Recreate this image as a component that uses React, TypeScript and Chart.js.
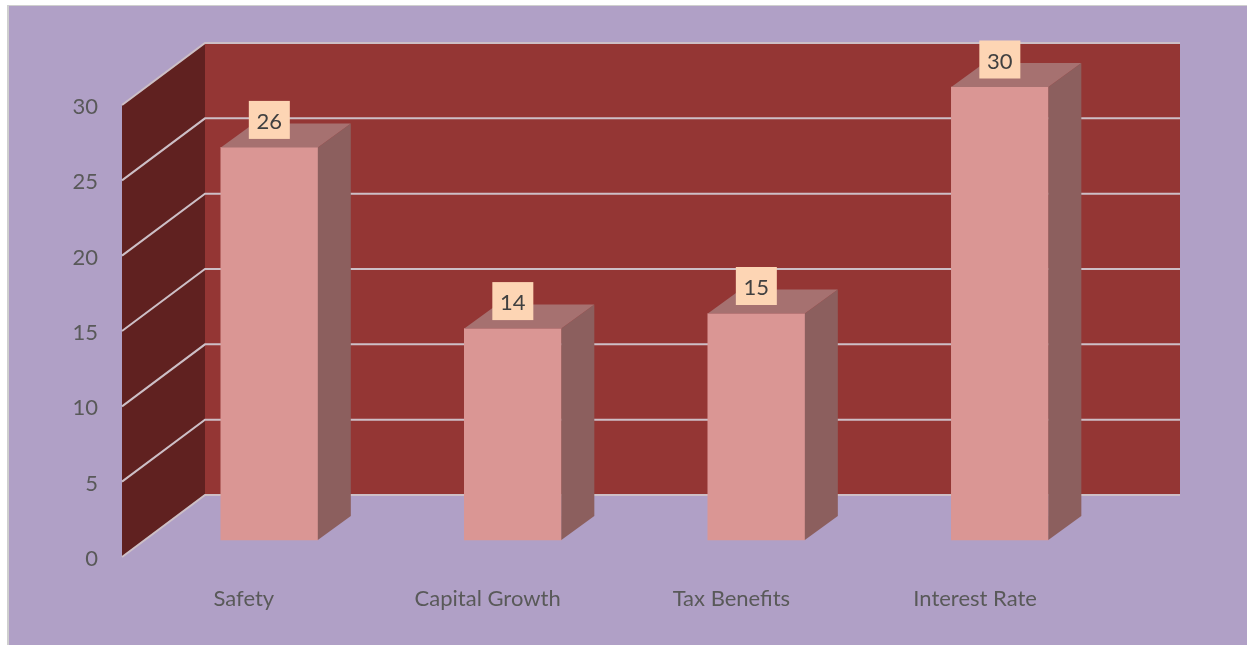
import React, { useEffect, useRef } from "react";
import { Chart, registerables } from "chart.js";

Chart.register(...registerables);

const categories = ["Safety", "Capital Growth", "Tax Benefits", "Interest Rate"];
const seriesValues = [26, 14, 15, 30];
const yTickMax = 30;

const PAGE_BG = "#B0A0C6";
const BACK_WALL = "#943634";
const SIDE_WALL = "#602120";
const GRID = "#CDBFC6";
const BAR_FRONT = "#DA9694";
const BAR_SIDE = "#8C5F5E";
const BAR_TOP = "#A67170";
const LABEL_BG = "#FDD5B4";
const AXIS_TEXT = "#595959";
const LABEL_TEXT = "#404040";
const FONT = "Lato";

const WALL_DX = 83;
const WALL_DY = -62;
const BAR_DX = 33;
const BAR_DY = -24;

function poly(ctx: CanvasRenderingContext2D, pts: number[][], fill: string) {
  ctx.beginPath();
  pts.forEach(([x, y], i) => (i ? ctx.lineTo(x, y) : ctx.moveTo(x, y)));
  ctx.closePath();
  ctx.fillStyle = fill;
  ctx.fill();
}

const scene3d = {
  id: "scene3d",
  beforeDraw(chart: any) {
    const { ctx, width, height } = chart;
    ctx.save();
    ctx.fillStyle = "#FFFFFF";
    ctx.fillRect(0, 0, width, height);
    ctx.fillStyle = "#CFCFCF";
    ctx.fillRect(7, 5, width - 7, height - 5);
    ctx.fillStyle = PAGE_BG;
    ctx.fillRect(9, 6, width - 9, height - 6);
    ctx.restore();
  },
  beforeDatasetsDraw(chart: any) {
    const { ctx, chartArea, scales } = chart;
    const y = scales.y;
    const l = chartArea.left;
    const r = chartArea.right + WALL_DX;
    const bx = l + WALL_DX;
    const y0 = y.getPixelForValue(0);
    const yT = y.getPixelForValue(yTickMax);
    ctx.save();
    poly(ctx, [[bx, yT + WALL_DY], [r, yT + WALL_DY], [r, y0 + WALL_DY], [bx, y0 + WALL_DY]], BACK_WALL);
    poly(ctx, [[l, yT], [bx, yT + WALL_DY], [bx, y0 + WALL_DY], [l, y0]], SIDE_WALL);
    ctx.strokeStyle = GRID;
    ctx.lineWidth = 2;
    y.ticks.forEach((t: any) => {
      const p = y.getPixelForValue(t.value);
      ctx.beginPath();
      ctx.moveTo(l, p);
      ctx.lineTo(bx, p + WALL_DY);
      ctx.lineTo(r, p + WALL_DY);
      ctx.stroke();
    });
    ctx.restore();
  },
  afterDatasetsDraw(chart: any) {
    const { ctx } = chart;
    const bars = chart.getDatasetMeta(0).data;
    ctx.save();
    bars.forEach((b: any) => {
      const left = b.x - b.width / 2;
      const right = b.x + b.width / 2;
      poly(ctx, [[right, b.y], [right + BAR_DX, b.y + BAR_DY], [right + BAR_DX, b.base + BAR_DY], [right, b.base]], BAR_SIDE);
      poly(ctx, [[left, b.y], [left + BAR_DX, b.y + BAR_DY], [right + BAR_DX, b.y + BAR_DY], [right, b.y]], BAR_TOP);
    });
    ctx.font = `22px ${FONT}`;
    ctx.textAlign = "center";
    ctx.textBaseline = "middle";
    bars.forEach((b: any, i: number) => {
      const cy = b.y - 27.5;
      ctx.fillStyle = LABEL_BG;
      ctx.fillRect(b.x - 20.5, cy - 19, 41, 38);
      ctx.fillStyle = LABEL_TEXT;
      ctx.fillText(String(seriesValues[i]), b.x, cy + 2);
    });
    ctx.restore();
  },
};

export default function App() {
  const ref = useRef<HTMLCanvasElement>(null);
  useEffect(() => {
    const chart = new Chart(ref.current as HTMLCanvasElement, {
      type: "bar",
      data: {
        labels: categories,
        datasets: [
          {
            data: seriesValues.map((v, i) => ({ x: i, y: v })),
            backgroundColor: BAR_FRONT,
            borderWidth: 0,
            barThickness: 97,
            xAxisID: "xBars",
            yAxisID: "yBars",
            clip: false,
          } as any,
        ],
      },
      options: {
        animation: false,
        responsive: false,
        events: [],
        layout: { padding: { top: 43, right: 150, left: 0, bottom: 0 } },
        plugins: { legend: { display: false }, tooltip: { enabled: false }, title: { display: false } },
        scales: {
          x: {
            type: "category",
            position: "bottom",
            offset: true,
            grid: { display: false, drawTicks: false },
            border: { display: false },
            ticks: { color: AXIS_TEXT, font: { family: FONT, size: 22 }, padding: 29, maxRotation: 0, autoSkip: false },
            afterFit: (s: any) => { s.height = 88; },
          },
          y: {
            type: "linear",
            position: "left",
            min: 0,
            max: 34.115,
            grid: { display: false, drawTicks: false },
            border: { display: false },
            ticks: { stepSize: 5, color: AXIS_TEXT, font: { family: FONT, size: 22 }, padding: 24, labelOffset: 2 },
            afterBuildTicks: (s: any) => { s.ticks = s.ticks.filter((t: any) => t.value <= yTickMax); },
            afterFit: (s: any) => { s.width = 122; },
          },
          xBars: { type: "linear", axis: "x", display: false, offset: false, min: -0.605, max: 3.399 },
          yBars: { type: "linear", axis: "y", display: false, min: -1.126, max: 32.914 },
        },
      } as any,
      plugins: [scene3d],
    });
    return () => chart.destroy();
  }, []);
  return (
    <canvas
      ref={ref}
      width={1247}
      height={645}
      style={{ position: "absolute", left: 0, top: 0, display: "block", width: 1247, height: 645, filter: "blur(0.4px)" }}
    />
  );
}
